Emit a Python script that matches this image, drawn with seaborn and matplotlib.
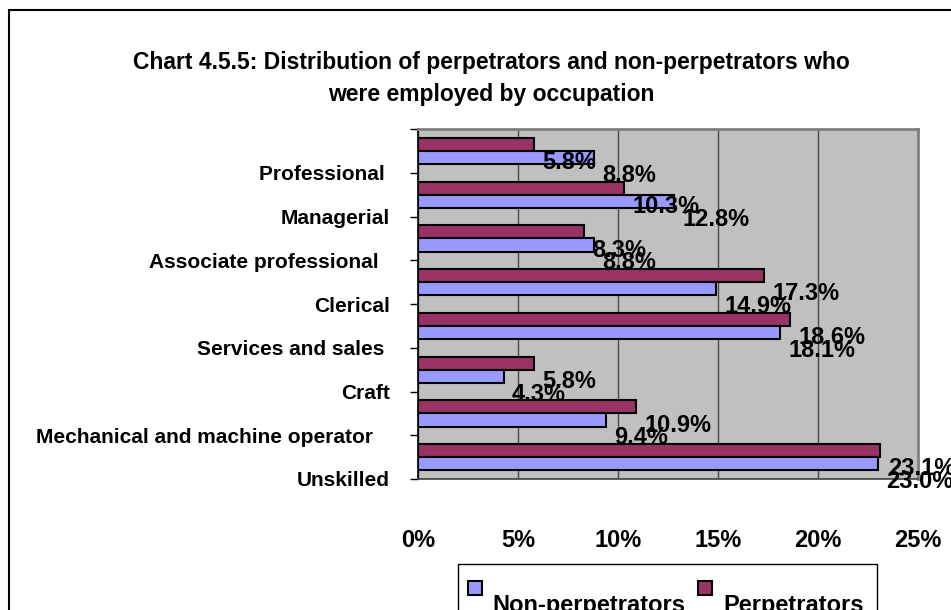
import matplotlib
matplotlib.use("Agg")
import matplotlib.pyplot as plt
import seaborn as sns
import pandas as pd
from matplotlib.lines import Line2D
from matplotlib.patches import Rectangle

categories = ["Professional", "Managerial", "Associate professional", "Clerical",
              "Services and sales", "Craft", "Mechanical and machine operator", "Unskilled"]
tick_labels = ["Professional ", "Managerial", "Associate professional  ", "Clerical",
               "Services and sales ", "Craft", "Mechanical and machine operator   ", "Unskilled"]
perpetrators = [5.8, 10.3, 8.3, 17.3, 18.6, 5.8, 10.9, 23.1]
non_perpetrators = [8.8, 12.8, 8.8, 14.9, 18.1, 4.3, 9.4, 23.0]
x_ticks = [0, 5, 10, 15, 20, 25]
x_tick_labels = ["0%", "5%", "10%", "15%", "20%", "25%"]
series_names = ["Perpetrators", "Non-perpetrators"]
colors = {"Perpetrators": "#993366", "Non-perpetrators": "#9999FF"}
title_lines = ["Chart 4.5.5: Distribution of perpetrators and non-perpetrators who",
               "were employed by occupation"]

df = pd.DataFrame({
    "category": categories * 2,
    "value": perpetrators + non_perpetrators,
    "group": ["Perpetrators"] * len(categories) + ["Non-perpetrators"] * len(categories),
})

sns.set_style("white")
plt.rcParams["font.family"] = ["Liberation Sans", "DejaVu Sans"]
plt.rcParams["font.weight"] = "bold"
plt.rcParams["text.color"] = "black"
plt.rcParams["xtick.color"] = "black"
plt.rcParams["ytick.color"] = "black"
plt.rcParams["xtick.labelcolor"] = "black"
plt.rcParams["ytick.labelcolor"] = "black"

W, H = 951, 610
fig = plt.figure(figsize=(W / 100, H / 100), dpi=100)
L, R, T, B = 418, 918, 129, 479
ax = fig.add_axes([L / W, 1 - B / H, (R - L) / W, (B - T) / H])
ax.set_facecolor("#C0C0C0")

sns.barplot(data=df, x="value", y="category", hue="group", order=categories,
            hue_order=series_names, palette=colors, orient="h", width=0.6,
            saturation=1, edgecolor="black", linewidth=1.5, legend=False, ax=ax,
            errorbar=None)

ax.set_xlim(0, 25)
ax.set_ylim(len(categories) - 0.5, -0.5)
ax.set_axisbelow(True)
ax.xaxis.grid(True, color="#4a4a4a", linewidth=1)
ax.yaxis.grid(False)

ax.set_xticks(x_ticks)
ax.set_xticklabels(x_tick_labels, fontsize=17, fontweight="bold", color="black")
ax.tick_params(axis="x", length=0, pad=36)

yt = [i + 0.5 for i in range(len(categories))]
ax.set_yticks([-0.5] + yt)
ax.set_yticklabels([""] + tick_labels, fontsize=15, fontweight="bold", color="black")
ax.tick_params(axis="y", direction="out", length=6, width=1, color="black", pad=14, left=True)
ax.set_xlabel("")
ax.set_ylabel("")

for side in ["top", "right"]:
    ax.spines[side].set_color("#808080")
    ax.spines[side].set_linewidth(2)
ax.spines["left"].set_color("black")
ax.spines["left"].set_linewidth(1.2)
ax.spines["bottom"].set_color("#404040")
ax.spines["bottom"].set_linewidth(1.2)

# data labels (Excel-style offsets)
for i, (p, n) in enumerate(zip(perpetrators, non_perpetrators)):
    ax.text(p + 0.4, i + 0.27, f"{p}%", ha="left", va="center", fontsize=17,
            fontweight="bold", color="black", clip_on=False, zorder=5)
    ax.text(n + 0.4, i + 0.56, f"{n}%", ha="left", va="center", fontsize=17,
            fontweight="bold", color="black", clip_on=False, zorder=5)

# title
fig.text(491 / W, 1 - 62 / H, title_lines[0], ha="center", va="center", fontsize=16.5,
         fontweight="bold", color="black")
fig.text(491 / W, 1 - 94 / H, title_lines[1], ha="center", va="center", fontsize=16.5,
         fontweight="bold", color="black")

# chart border
fig.add_artist(Line2D([8.5 / W, 1], [1 - 9.5 / H, 1 - 9.5 / H], transform=fig.transFigure, color="black", lw=1.5))
fig.add_artist(Line2D([8.5 / W, 8.5 / W], [0, 1 - 9.5 / H], transform=fig.transFigure, color="black", lw=1.5))

# legend (Excel-style)
fig.add_artist(Rectangle((458 / W, -0.05), (877 - 458) / W, (0.05 + 1 - 564 / H),
                         transform=fig.transFigure, fill=False, edgecolor="black", lw=1))
for name, sx, tx in [("Non-perpetrators", 468, 492), ("Perpetrators", 698, 723)]:
    fig.add_artist(Rectangle((sx / W, 1 - 595 / H), 14 / W, 14 / H, transform=fig.transFigure,
                             facecolor=colors[name], edgecolor="black", lw=1.5))
    fig.text(tx / W, 1 - 594 / H, name, ha="left", va="top", fontsize=17, fontweight="bold",
             color="black")

fig.savefig("out.png", dpi=100)
